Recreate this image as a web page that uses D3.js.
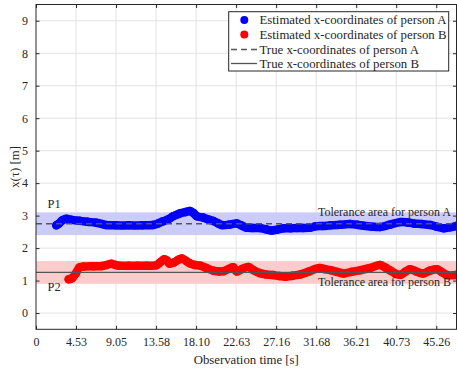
<!DOCTYPE html>
<html lang="en">
<head>
    <meta charset="UTF-8">
    <title>Estimated vs true x-coordinates</title>
    <script src="https://d3js.org/d3.v7.min.js"></script>
    <style>
        body { margin: 0; background: #fff; }
        svg text { font-family: "Liberation Serif", "DejaVu Serif", serif; fill: #262626; }
        .tick text { font-size: 12px; }
        .grid line { stroke: #e3e3e3; stroke-width: 1; }
        .frame { fill: none; stroke: #262626; stroke-width: 1; }
    </style>
</head>
<body>
<script>
    const width = 457, height = 370;
    const marginLeft = 36, marginRight = 0.5, marginTop = 4.5, marginBottom = 40.7;

    // estimated x-coordinates (time [s], x [m])
    const timeA = [2.3, 2.6, 3.0, 3.4, 4.0, 4.9, 5.8, 6.8, 7.5, 7.9, 9.0, 10.5, 12.0, 13.2, 13.8, 14.3, 14.9, 15.5,
        16.3, 16.9, 17.4, 17.8, 18.2, 18.9, 19.5, 20.1, 20.6, 21.0, 21.8, 22.7, 23.2, 23.8, 24.5, 25.3, 26.0, 26.7,
        27.3, 28.0, 28.8, 29.5, 30.2, 31.0, 31.6, 32.4, 33.3, 34.4, 35.5, 36.3, 37.0, 38.0, 38.9, 40.0, 41.2, 42.0,
        42.7, 43.6, 44.6, 45.3, 46.1, 46.8, 47.5];
    const xA = [2.70, 2.76, 2.86, 2.90, 2.87, 2.84, 2.81, 2.78, 2.74, 2.71, 2.70, 2.70, 2.70, 2.71, 2.76, 2.82, 2.88, 2.98,
        3.07, 3.11, 3.14, 3.08, 2.98, 2.94, 2.88, 2.83, 2.76, 2.71, 2.72, 2.76, 2.70, 2.63, 2.62, 2.62, 2.58, 2.54,
        2.57, 2.61, 2.61, 2.62, 2.62, 2.63, 2.67, 2.68, 2.70, 2.72, 2.74, 2.72, 2.69, 2.66, 2.65, 2.72, 2.80, 2.79,
        2.76, 2.74, 2.71, 2.66, 2.61, 2.64, 2.68];
    const timeB = [3.7, 4.1, 4.5, 4.9, 5.4, 6.5, 7.5, 8.0, 8.5, 9.0, 9.4, 10.5, 11.5, 12.5, 13.6, 14.0, 14.5, 14.8, 15.1,
        15.6, 16.1, 16.5, 17.0, 17.4, 18.0, 18.6, 19.3, 20.1, 20.7, 21.2, 21.8, 22.3, 22.7, 23.3, 24.0, 24.6, 25.3,
        26.0, 26.8, 27.5, 28.2, 29.0, 29.9, 30.8, 31.6, 32.1, 32.7, 33.3, 34.0, 34.8, 35.7, 36.7, 37.8, 38.9, 39.5,
        40.0, 40.6, 41.2, 41.8, 42.3, 43.0, 43.8, 44.5, 45.3, 45.9, 46.5, 47.5];
    const xB = [1.04, 1.08, 1.22, 1.40, 1.43, 1.44, 1.45, 1.48, 1.52, 1.48, 1.46, 1.46, 1.46, 1.46, 1.47, 1.55, 1.66, 1.62, 1.52,
        1.56, 1.64, 1.68, 1.60, 1.53, 1.48, 1.46, 1.38, 1.30, 1.28, 1.29, 1.36, 1.41, 1.28, 1.36, 1.42, 1.32, 1.23,
        1.19, 1.17, 1.14, 1.12, 1.15, 1.19, 1.27, 1.36, 1.39, 1.35, 1.32, 1.27, 1.22, 1.27, 1.32, 1.39, 1.48, 1.40,
        1.32, 1.22, 1.18, 1.28, 1.35, 1.28, 1.22, 1.30, 1.35, 1.26, 1.17, 1.17];

    // true positions and tolerance (+/-)
    const trueA = 2.75, trueB = 1.25, tolerance = 0.35;

    const xTicks = [0, 4.5263, 9.0526, 13.5789, 18.1053, 22.6316, 27.1579, 31.6842, 36.2105, 40.7368, 45.2632];
    const xTickLabels = ["0", "4.53", "9.05", "13.58", "18.10", "22.63", "27.16", "31.68", "36.21", "40.73", "45.26"];
    const yTicks = [0, 1, 2, 3, 4, 5, 6, 7, 8, 9];

    const legendLabels = ["Estimated x-coordinates of person A", "Estimated x-coordinates of person B",
        "True x-coordinates of person A", "True x-coordinates of person B"];

    const blue = "#0000ff", red = "#ff0000";

    const x = d3.scaleLinear().domain([0, 47.55]).range([marginLeft, width - marginRight]);
    const y = d3.scaleLinear().domain([-0.5, 9.5]).range([height - marginBottom, marginTop]);

    const svg = d3.select("body").append("svg")
        .attr("width", width).attr("height", height);

    svg.append("defs").append("clipPath").attr("id", "plot")
        .append("rect")
        .attr("x", marginLeft).attr("y", marginTop)
        .attr("width", width - marginRight - marginLeft)
        .attr("height", height - marginBottom - marginTop);

    // grid
    const grid = svg.append("g").attr("class", "grid");
    grid.selectAll(".gx").data(xTicks.slice(1)).join("line")
        .attr("x1", d => x(d)).attr("x2", d => x(d))
        .attr("y1", marginTop).attr("y2", height - marginBottom);
    grid.selectAll(".gy").data(yTicks).join("line")
        .attr("x1", marginLeft).attr("x2", width - marginRight)
        .attr("y1", d => y(d)).attr("y2", d => y(d));

    const plot = svg.append("g").attr("clip-path", "url(#plot)");

    // tolerance bands
    plot.append("rect")
        .attr("x", x(0)).attr("width", x(47.55) - x(0))
        .attr("y", y(trueA + tolerance)).attr("height", y(trueA - tolerance) - y(trueA + tolerance))
        .attr("fill", "#ccccfa");
    plot.append("rect")
        .attr("x", x(0)).attr("width", x(47.55) - x(0))
        .attr("y", y(trueB + tolerance)).attr("height", y(trueB - tolerance) - y(trueB + tolerance))
        .attr("fill", "#facccc");

    const line = d3.line().x(d => x(d[0])).y(d => y(d[1])).curve(d3.curveCatmullRom);
    const ptsA = timeA.map((t, i) => [t, xA[i]]);
    const ptsB = timeB.map((t, i) => [t, xB[i]]);

    function drawSeries(pts, color) {
        plot.append("path").datum(pts)
            .attr("d", line)
            .attr("fill", "none").attr("stroke", color)
            .attr("stroke-width", 8.5)
            .attr("stroke-linejoin", "round").attr("stroke-linecap", "round");
        plot.selectAll(null).data(pts).join("circle")
            .attr("cx", d => x(d[0])).attr("cy", d => y(d[1]))
            .attr("r", 4.25).attr("fill", color);
    }
    drawSeries(ptsA, blue);
    drawSeries(ptsB, red);

    // true lines
    plot.append("line")
        .attr("x1", x(0)).attr("x2", x(47.55))
        .attr("y1", y(trueA)).attr("y2", y(trueA))
        .attr("stroke", "#555").attr("stroke-width", 1.3).attr("stroke-dasharray", "6 4");
    plot.append("line")
        .attr("x1", x(0)).attr("x2", x(47.55))
        .attr("y1", y(trueB)).attr("y2", y(trueB))
        .attr("stroke", "#555").attr("stroke-width", 1.3);

    // annotations
    svg.append("text").attr("x", 47.5).attr("y", y(3.23)).attr("font-size", 12.5).text("P1");
    svg.append("text").attr("x", 47.5).attr("y", y(0.68)).attr("font-size", 12.5).text("P2");
    svg.append("text").attr("x", 451).attr("y", y(2.99)).attr("font-size", 12)
        .attr("text-anchor", "end").attr("fill", "#333").text("Tolerance area for person A");
    svg.append("text").attr("x", 451).attr("y", y(0.82)).attr("font-size", 12)
        .attr("text-anchor", "end").attr("fill", "#333").text("Tolerance area for person B");

    // axes with inward ticks on all sides
    const fmtX = (d, i) => xTickLabels[i];
    svg.append("g")
        .attr("transform", `translate(0,${height - marginBottom})`)
        .call(d3.axisBottom(x).tickValues(xTicks).tickFormat(fmtX).tickSize(-3.5).tickPadding(8).tickSizeOuter(0));
    svg.append("g")
        .attr("transform", `translate(0,${marginTop})`)
        .call(d3.axisTop(x).tickValues(xTicks).tickFormat("").tickSize(-3.5).tickSizeOuter(0));
    svg.append("g")
        .attr("transform", `translate(${marginLeft},0)`)
        .call(d3.axisLeft(y).tickValues(yTicks).tickSize(-3.5).tickPadding(8).tickSizeOuter(0));
    svg.append("g")
        .attr("transform", `translate(${width - marginRight},0)`)
        .call(d3.axisRight(y).tickValues(yTicks).tickFormat("").tickSize(-3.5).tickSizeOuter(0));
    svg.selectAll(".domain").remove();
    svg.selectAll(".tick line").attr("stroke", "#262626");
    svg.selectAll(".tick text").attr("fill", "#262626")
        .style("font-family", "Liberation Serif, serif");

    svg.append("rect").attr("class", "frame")
        .attr("x", marginLeft).attr("y", marginTop)
        .attr("width", width - marginRight - marginLeft)
        .attr("height", height - marginBottom - marginTop);

    // axis titles
    svg.append("text")
        .attr("x", (marginLeft + width - marginRight) / 2).attr("y", 364)
        .attr("text-anchor", "middle").attr("font-size", 12.8)
        .text("Observation time [s]");
    svg.append("text")
        .attr("transform", `translate(19,${(marginTop + height - marginBottom) / 2}) rotate(-90)`)
        .attr("text-anchor", "middle").attr("font-size", 12.8)
        .text("x(τ) [m]");

    // legend
    const legend = svg.append("g");
    legend.append("rect")
        .attr("x", 228.7).attr("y", 11.7).attr("width", 220).attr("height", 59.3)
        .attr("fill", "#fff").attr("stroke", "#262626").attr("stroke-width", 1);
    const rowY = [20, 34.5, 49.5, 63.5];
    legend.append("circle").attr("cx", 244.3).attr("cy", rowY[0]).attr("r", 4).attr("fill", blue);
    legend.append("circle").attr("cx", 244.3).attr("cy", rowY[1]).attr("r", 4).attr("fill", red);
    legend.append("line").attr("x1", 231).attr("x2", 257).attr("y1", rowY[2]).attr("y2", rowY[2])
        .attr("stroke", "#555").attr("stroke-width", 1.3).attr("stroke-dasharray", "6 4");
    legend.append("line").attr("x1", 231).attr("x2", 257).attr("y1", rowY[3]).attr("y2", rowY[3])
        .attr("stroke", "#555").attr("stroke-width", 1.3);
    legend.selectAll(".lt").data(legendLabels).join("text")
        .attr("x", 259.5).attr("y", (d, i) => rowY[i] + 4.3)
        .attr("font-size", 12.8).text(d => d);
</script>
</body>
</html>
